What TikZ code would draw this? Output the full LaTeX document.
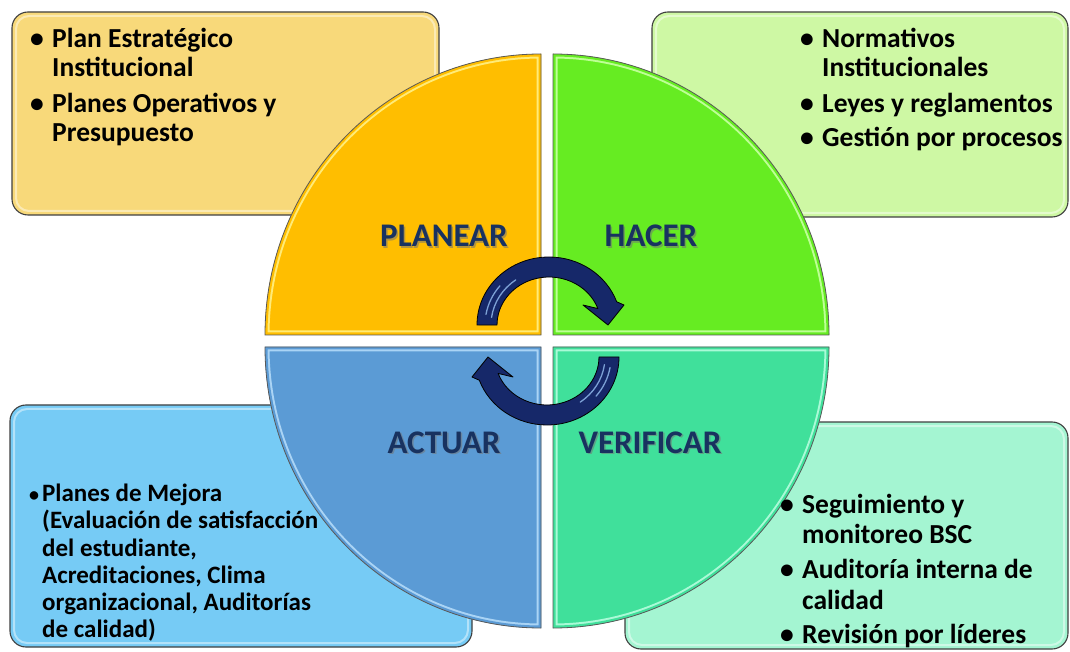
\documentclass[tikz,border=0pt]{standalone}
\usepackage{fontspec}
\setmainfont{Carlito}
\definecolor{boxTL}{RGB}{248,217,122}
\definecolor{boxTR}{RGB}{206,248,164}
\definecolor{boxBL}{RGB}{118,203,245}
\definecolor{boxBR}{RGB}{164,245,210}
\definecolor{qPlan}{RGB}{255,190,0}
\definecolor{qHacer}{RGB}{102,236,34}
\definecolor{qActuar}{RGB}{91,155,213}
\definecolor{qVerif}{RGB}{64,224,155}
\definecolor{qPlanL}{RGB}{255,235,120}
\definecolor{qHacerL}{RGB}{190,255,150}
\definecolor{qActuarL}{RGB}{170,212,245}
\definecolor{qVerifL}{RGB}{170,250,215}
\definecolor{navytext}{RGB}{24,50,96}
\definecolor{arrowfill}{RGB}{22,40,105}
\definecolor{arrowlight}{RGB}{150,190,240}
\newcommand{\itembul}{\makebox[22pt][l]{•}}
\newcommand{\itembulsm}{\makebox[13pt][l]{\fontsize{20}{20}\selectfont •}}
\def\pathTL{(541,316) -- (265,316) arc[start angle=180,end angle=90,x radius=276,y radius=281] -- cycle}
\def\pathTR{(553,316) -- (553,597) arc[start angle=90,end angle=0,x radius=276,y radius=281] -- cycle}
\def\pathBL{(541,304) -- (265,304) arc[start angle=180,end angle=270,x radius=276,y radius=281] -- cycle}
\def\pathBR{(553,304) -- (829,304) arc[start angle=0,end angle=-90,x radius=276,y radius=281] -- cycle}
\begin{document}
\begin{tikzpicture}[x=1pt,y=1pt,
  infobox/.style={rounded corners=16pt, draw=black!75, line width=1.1pt},
  boxshine/.style={draw=white, opacity=0.45, line width=2pt, rounded corners=13pt},
  quarter/.style={draw=black!65, line width=0.8pt},
  item/.style={anchor=base west, inner sep=0pt, font=\bfseries\fontsize{27.5}{29}\selectfont},
  itemsm/.style={anchor=base west, inner sep=0pt, font=\bfseries\fontsize{25}{27}\selectfont},
  phase/.style={font=\bfseries\fontsize{33}{36}\selectfont, text=navytext, inner sep=0pt, anchor=base},
  phaseshadow/.style={font=\bfseries\fontsize{33}{36}\selectfont, text=black!55, opacity=0.55, inner sep=0pt, anchor=base},
  cyclearrow/.style={fill=arrowfill, draw=black, line width=0.8pt, line join=round},
  arrowstripe/.style={draw=arrowlight, line width=1.3pt, opacity=0.8, line cap=round},
]
\useasboundingbox (0,0) rectangle (1070,651);
\fill[white] (0,0) rectangle (1070,651);

% information boxes at the four corners
\draw[infobox, fill=boxTL] (12,436) rectangle (439,639);
\draw[boxshine] (16,440) rectangle (435,635);
\draw[infobox, fill=boxTR] (652,434) rectangle (1068,639);
\draw[boxshine] (656,438) rectangle (1064,635);
\draw[infobox, fill=boxBL] (10,4) rectangle (472,246);
\draw[boxshine] (14,8) rectangle (468,242);
\draw[infobox, fill=boxBR] (625,2) rectangle (1068,229);
\draw[boxshine] (629,6) rectangle (1064,225);

% four quarters of the cycle, each with a bevel line inside its edge
\foreach \qp/\qc/\ql in {\pathTL/qPlan/qPlanL, \pathTR/qHacer/qHacerL, \pathBL/qActuar/qActuarL, \pathBR/qVerif/qVerifL}{
  \begin{scope}
    \clip \qp;
    \fill[\qc] \qp;
    \draw[\ql, line width=9pt] \qp;
    \draw[\qc, line width=5pt] \qp;
  \end{scope}
  \draw[quarter] \qp;
}

% phase titles
\node[phaseshadow] (planshadow) at (445.5,402.5) {PLANEAR};
\node[phase] (plan) at (444,404) {PLANEAR};
\node[phaseshadow] (hacershadow) at (652.5,402.5) {HACER};
\node[phase] (hacer) at (651,404) {HACER};
\node[phaseshadow] (actuarshadow) at (445.5,196.5) {ACTUAR};
\node[phase] (actuar) at (444,198) {ACTUAR};
\node[phaseshadow] (verifshadow) at (651.5,196.5) {VERIFICAR};
\node[phase] (verif) at (650,198) {VERIFICAR};

% circular arrows between the phases
\foreach \cx/\cy/\rot in {549/326/0, 547/294/180}{
  \begin{scope}[shift={(\cx,\cy)}, rotate=\rot]
    \path[cyclearrow] (-72,0) arc[start angle=180,end angle=20,x radius=72,y radius=68]
      -- (75,20) -- (59,0) -- (34,20) -- (48.9,16.4)
      arc[start angle=20,end angle=180,x radius=52,y radius=48] -- cycle;
    \draw[arrowstripe] (172:58 and 55) arc[start angle=172,end angle=125,x radius=58,y radius=55];
    \draw[arrowstripe] (170:64 and 61) arc[start angle=170,end angle=140,x radius=64,y radius=61];
  \end{scope}
}

% Planear box
\node[item] (tl1) at (30,603) {\itembul Plan Estratégico};
\node[item] (tl2) at (52,574) {Institucional};
\node[item] (tl3) at (30,538) {\itembul Planes Operativos y};
\node[item] (tl4) at (52,509) {Presupuesto};

% Hacer box
\node[item] (tr1) at (800,603) {\itembul Normativos};
\node[item] (tr2) at (822,574) {Institucionales};
\node[item] (tr3) at (800,538) {\itembul Leyes y reglamentos};
\node[item] (tr4) at (800,504) {\itembul Gestión por procesos};

% Actuar box
\node[itemsm] (bl1) at (29,150) {\itembulsm Planes de Mejora};
\node[itemsm] (bl2) at (42,123) {(Evaluación de satisfacción};
\node[itemsm] (bl3) at (42,95) {del estudiante,};
\node[itemsm] (bl4) at (42,68) {Acreditaciones, Clima};
\node[itemsm] (bl5) at (42,41) {organizacional, Auditorías};
\node[itemsm] (bl6) at (42,14) {de calidad)};

% Verificar box
\node[item] (br1) at (780,138) {\itembul Seguimiento y};
\node[item] (br2) at (802,108) {monitoreo BSC};
\node[item] (br3) at (780,73) {\itembul Auditoría interna de};
\node[item] (br4) at (802,42) {calidad};
\node[item] (br5) at (780,8) {\itembul Revisión por líderes};
\end{tikzpicture}
\end{document}
